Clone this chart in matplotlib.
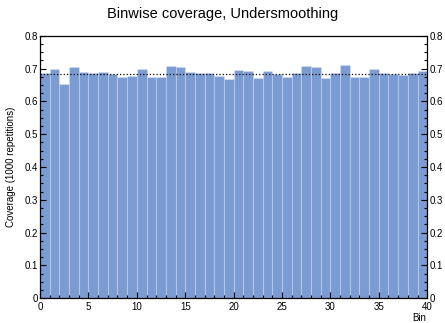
import matplotlib
matplotlib.use("Agg")
import matplotlib.pyplot as plt
import numpy as np
from matplotlib.ticker import MultipleLocator

plt.rcParams['font.family'] = ['Liberation Sans', 'DejaVu Sans']

# coverage per bin over 1000 repetitions
coverage = [0.687, 0.698, 0.652, 0.704, 0.689, 0.686, 0.689, 0.683, 0.675, 0.679,
            0.698, 0.675, 0.675, 0.707, 0.704, 0.689, 0.686, 0.686, 0.677, 0.668,
            0.697, 0.693, 0.672, 0.693, 0.683, 0.675, 0.688, 0.707, 0.704, 0.671,
            0.688, 0.710, 0.675, 0.675, 0.700, 0.686, 0.685, 0.681, 0.688, 0.692]
nominal = 0.6827
bins = np.arange(len(coverage))

fig = plt.figure(figsize=(4.45, 3.23), dpi=100)
ax = fig.add_axes([0.09, 0.077, 0.87, 0.812])

ax.bar(bins, coverage, width=1.0, align='edge', color='#7b9bd3',
       edgecolor=(1, 1, 1, 0.2), linewidth=0.8)
ax.axhline(nominal, color='black', linestyle=':', linewidth=0.9)

ax.set_xlim(0, 40)
ax.set_ylim(0, 0.8)
ax.xaxis.set_major_locator(MultipleLocator(5))
ax.xaxis.set_minor_locator(MultipleLocator(1))
ax.yaxis.set_minor_locator(MultipleLocator(0.025))
ax.set_yticks(np.arange(0, 0.81, 0.1))
ax.set_yticklabels(['0'] + ['%.1f' % v for v in np.arange(0.1, 0.81, 0.1)])

ax.tick_params(which='both', direction='in', top=False, right=True,
               labelright=True, labelsize=7, pad=1.5, width=0.8)
ax.tick_params(axis='x', pad=3)
ax.tick_params(which='major', length=4)
ax.tick_params(which='minor', length=2)
for s in ax.spines.values():
    s.set_linewidth(0.9)

ax.set_ylabel('Coverage (1000 repetitions)', fontsize=7, labelpad=6)
ax.text(39.2, -0.06, 'Bin', fontsize=7, ha='center', va='center')
fig.text(0.5, 0.957, 'Binwise coverage, Undersmoothing', fontsize=10.5,
         ha='center', va='center')

fig.savefig('out.png', dpi=100)
